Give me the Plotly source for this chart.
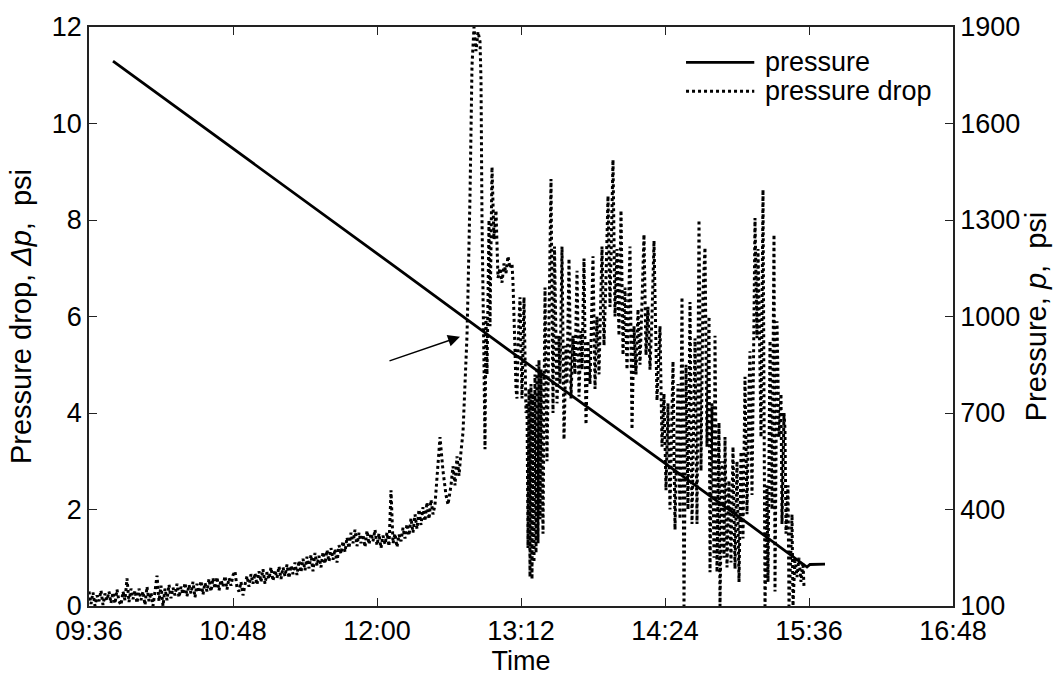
import plotly.graph_objects as go

# ---- axis ticks -------------------------------------------------------------
TIME_TICKS = ["09:36", "10:48", "12:00", "13:12", "14:24", "15:36", "16:48"]
DROP_TICKS = [0, 2, 4, 6, 8, 10, 12]
PRESSURE_TICKS = [100, 400, 700, 1000, 1300, 1600, 1900]


def clock_to_min(label):
    h, m = label.split(":")
    return int(h) * 60 + int(m)


T0 = clock_to_min(TIME_TICKS[0])  # all sample times are minutes after 09:36

# ---- pressure (psi), right axis ----------------------------------------------
pressure_min = [12, 153, 200.5, 330.5, 359, 360.5, 368]
pressure_psi = [1794, 1155, 938, 352, 221, 229, 230]

# ---- pressure drop (psi), left axis ------------------------------------------
# first stretch: one reading per minute starting at 09:36
DROP_EARLY_STEP_MIN = 1.0
drop_early = [
    0.30, 0.04, 0.28, 0.00, 0.22, 0.10, 0.32, 0.02, 0.26, 0.12, 0.30, 0.06,
    0.28, 0.05, 0.34, 0.10, 0.02, 0.30, 0.12, 0.57, 0.08, 0.36, 0.14, 0.32,
    0.06, 0.36, 0.12, 0.30, 0.02, 0.40, 0.10, 0.28, 0.00, 0.30, 0.63, 0.10,
    0.42, 0.00, 0.36, 0.12, 0.44, 0.16, 0.38, 0.22, 0.46, 0.18, 0.40, 0.24,
    0.48, 0.20, 0.44, 0.26, 0.50, 0.18, 0.46, 0.28, 0.52, 0.24, 0.48, 0.30,
    0.56, 0.30, 0.58, 0.36, 0.60, 0.32, 0.54, 0.40, 0.62, 0.34, 0.58, 0.42,
    0.64, 0.72, 0.38, 0.30, 0.50, 0.22, 0.44, 0.62, 0.40, 0.66, 0.46, 0.68,
    0.44, 0.72, 0.50, 0.76, 0.46, 0.70, 0.56, 0.80, 0.52, 0.74, 0.58, 0.82,
    0.56, 0.80, 0.62, 0.86, 0.58, 0.84, 0.66, 0.90, 0.64, 0.94, 0.70, 0.98,
    0.74, 1.02, 0.78, 1.06, 0.72, 1.10, 0.84, 1.04, 0.80, 1.12, 0.88, 1.16,
    0.92, 1.20, 0.96, 1.18, 0.90, 1.26, 1.08, 1.34, 1.12, 1.42, 1.20, 1.52,
    1.30, 1.58, 1.24, 1.52, 1.30, 1.48, 1.22, 1.56, 1.28, 1.50, 1.34, 1.58,
    1.26, 1.50, 1.20, 1.46, 1.28, 1.52, 1.24, 2.40, 1.30, 1.50, 1.22, 1.48,
    1.34, 1.62, 1.40, 1.70, 1.46, 1.82, 1.52, 1.90, 1.60, 2.00, 1.68, 2.05,
    1.76, 2.15, 1.80, 2.20, 1.90, 2.10,
]

# second stretch: irregular readings (minutes after 09:36), row-aligned
drop_late_min = [
    175.5, 177, 178.5, 179.5, 181, 182, 183, 184, 185, 186,
    187, 188, 189, 189.5, 190.5, 191.5, 192.5, 193.5, 194.5, 195.5,
    196, 196.5, 197.5, 198, 198.5, 199, 200, 200.5, 201.5, 202.5,
    203.5, 204.5, 205.5, 206.5, 207.5, 208.5, 209.5, 210.5, 211.5, 212,
    213, 213.5, 214, 214.5, 215.5, 216.5, 217.5, 218.5, 219, 219.5,
    220, 220.5, 221, 221.5, 222, 222.5, 223, 223.5, 224, 224.5,
    225, 225.5, 226, 227, 228, 229, 231, 232, 232.75, 234,
    235, 235.5, 236.5, 237.5, 238.5, 239, 240, 241, 242, 243,
    244, 245, 246, 246.5, 247.5, 248.5, 249.5, 250.5, 252, 253,
    254, 255, 256.5, 257.5, 258.5, 259.5, 260.5, 262, 263, 264,
    265, 266, 267, 268, 269, 270.5, 271.5, 272.5, 273.5, 274.5,
    275.5, 276.5, 277.5, 278.5, 279.5, 280.5, 281.5, 282.5, 284, 285.5,
    286.5, 287.5, 288.5, 289.5, 290.5, 292, 293, 294.5, 295.5, 296.5,
    297.5, 298.5, 299.5, 300.5, 301.5, 303, 304, 305, 306, 307,
    308, 309, 310, 310.5, 311.5, 312.5, 313, 314, 315, 315.5,
    316.5, 317.5, 318, 319, 320, 321, 322, 323, 324, 325,
    326, 327, 328, 329, 330, 330.5, 331.5, 332.5, 333, 334,
    334.5, 335, 336, 337, 338, 339, 339.5, 340.5, 341.5, 342.5,
    343, 344, 345, 346, 346.5, 347.5, 348, 348.5, 349.5, 350,
    351, 351.5, 352, 353, 354, 355, 356, 357, 357.5,
]
drop_late = [
    3.5, 2.8, 2.3, 2.1, 2.5, 2.9, 2.5, 3.1, 2.7, 3.2,
    3.6, 4.6, 5.6, 6.5, 8.5, 11.2, 12.0, 11.5, 11.9, 11.7,
    10.9, 8.0, 5.0, 3.25, 6.0, 4.8, 8.0, 5.8, 9.1, 7.6,
    8.2, 6.8, 7.0, 6.7, 7.1, 6.9, 7.25, 7.0, 7.1, 6.7,
    5.3, 4.5, 4.3, 5.4, 6.4, 4.3, 6.4, 4.0, 4.2, 1.2,
    4.5, 0.6, 4.6, 0.55, 4.4, 0.9, 4.8, 1.1, 5.0, 1.3,
    5.1, 1.8, 4.9, 1.5, 6.6, 3.0, 8.85, 4.0, 7.45, 4.2,
    5.6, 4.6, 7.45, 3.45, 5.4, 4.6, 7.2, 4.3, 5.6, 4.8,
    6.95, 4.34, 5.7, 4.9, 7.2, 3.76, 5.5, 4.6, 7.25, 4.5,
    6.0, 4.8, 7.45, 5.4, 6.8, 8.5, 6.2, 9.25, 6.0, 7.4,
    5.6, 8.2, 5.2, 6.6, 4.9, 7.45, 3.66, 5.8, 4.8, 6.15,
    5.0, 6.3, 7.7, 5.2, 6.2, 4.9, 6.0, 7.57, 4.26, 5.8,
    3.3, 4.4, 2.4, 4.2, 2.0, 5.07, 1.58, 4.6, 1.8, 6.4,
    0.0, 5.0, 2.0, 6.3, 1.7, 5.55, 1.7, 8.0, 2.8, 6.5,
    7.43, 3.3, 6.0, 0.7, 4.2, 1.0, 5.6, 0.7, 3.8, 0.0,
    3.0, 1.0, 3.5, 0.8, 2.6, 0.9, 3.3, 0.77, 3.0, 0.5,
    3.2, 1.4, 4.75, 1.9, 4.5, 5.28, 2.3, 6.0, 8.04, 5.55,
    7.4, 6.3, 3.5, 8.63, 0.0, 2.5, 0.5, 5.5, 2.0, 7.7,
    0.3, 5.9, 3.5, 4.4, 1.7, 4.0, 3.66, 1.5, 2.5, 0.0,
    1.2, 1.9, 0.0, 1.0, 0.6, 1.0, 0.5, 0.9, 0.4,
]
if len(drop_late_min) != len(drop_late):
    raise ValueError("pressure-drop times and readings differ in length")

drop_min = [i * DROP_EARLY_STEP_MIN for i in range(len(drop_early))] + drop_late_min
drop_psi = drop_early + drop_late

SERIES_NAMES = ["pressure", "pressure drop"]

FONT = "Liberation Sans, Arial, Helvetica, sans-serif"
FS = 27
FS_TITLE = 29

fig = go.Figure()

fig.add_trace(go.Scatter(
    x=[T0 + m for m in pressure_min], y=pressure_psi, yaxis="y2",
    mode="lines", name=SERIES_NAMES[0], showlegend=False,
    line=dict(color="black", width=2.8, simplify=False),
))
fig.add_trace(go.Scatter(
    x=[T0 + m for m in drop_min], y=drop_psi, yaxis="y",
    mode="lines", name=SERIES_NAMES[1], showlegend=False,
    line=dict(color="black", width=3, dash="dot", simplify=False),
))

# arrow pointing at the onset of the pressure-drop surge
fig.add_annotation(
    x=T0 + 185.5, y=5.58, ax=T0 + 149.5, ay=5.07,
    xref="x", yref="y", axref="x", ayref="y",
    text="", showarrow=True, arrowhead=2, arrowsize=1.6, arrowwidth=1.5,
    arrowcolor="black",
)

# legend key (upper right, no frame)
key_rows = [0.939, 0.889]
key_styles = ["solid", "dot"]
for name, yk, dash in zip(SERIES_NAMES, key_rows, key_styles):
    fig.add_shape(type="line", xref="x domain", yref="y domain",
                  x0=0.691, x1=0.770, y0=yk, y1=yk,
                  line=dict(color="black", width=2.8 if dash == "solid" else 3,
                            dash=dash))
    fig.add_annotation(xref="x domain", yref="y domain", x=0.780, y=yk,
                       xanchor="left", yanchor="middle", showarrow=False,
                       text=name, font=dict(family=FONT, size=FS, color="black"))

axis_common = dict(
    showgrid=False, zeroline=False, showline=True, linecolor="#222",
    linewidth=1.5, ticks="inside", ticklen=8, tickcolor="#222",
    tickfont=dict(family=FONT, size=FS, color="black"),
    ticklabeloverflow="allow",
)

fig.update_layout(
    width=1064, height=679,
    margin=dict(l=89, r=111, t=14, b=71),
    paper_bgcolor="white", plot_bgcolor="white",
    font=dict(family=FONT, size=FS, color="black"),
    showlegend=False,
    xaxis=dict(
        range=[clock_to_min(TIME_TICKS[0]), clock_to_min(TIME_TICKS[-1])],
        tickvals=[clock_to_min(t) for t in TIME_TICKS], ticktext=TIME_TICKS,
        mirror="ticks",
        title=dict(text="Time", font=dict(family=FONT, size=FS), standoff=2),
        **axis_common,
    ),
    yaxis=dict(
        range=[DROP_TICKS[0], DROP_TICKS[-1]], tickvals=DROP_TICKS,
        title=dict(text="Pressure drop, <i>Δp</i>,  psi",
                   font=dict(family=FONT, size=FS_TITLE), standoff=12),
        **axis_common,
    ),
    yaxis2=dict(
        range=[PRESSURE_TICKS[0], PRESSURE_TICKS[-1]], tickvals=PRESSURE_TICKS,
        overlaying="y", side="right",
        title=dict(text="Pressure, <i>p</i>,  psi",
                   font=dict(family=FONT, size=FS_TITLE), standoff=6),
        **axis_common,
    ),
)

fig.write_html("out.html")
